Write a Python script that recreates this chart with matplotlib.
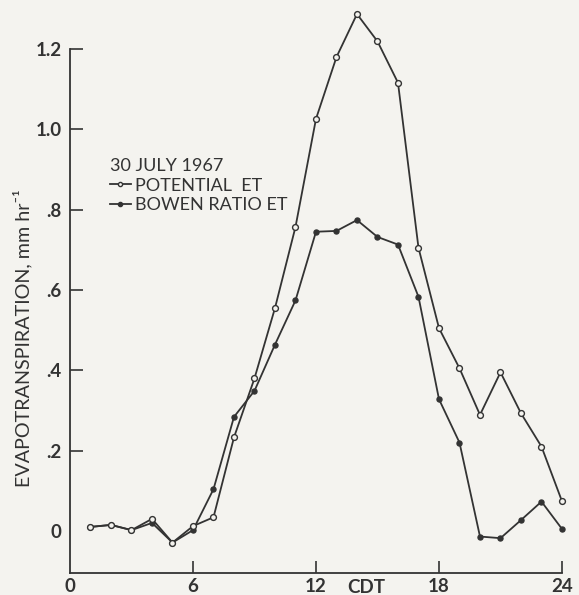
import matplotlib
matplotlib.use("Agg")
import matplotlib.pyplot as plt
from matplotlib.lines import Line2D

# hourly values (30 July 1967)
hours = list(range(1, 25))
potential_et = [0.010, 0.015, 0.002, 0.030, -0.029, 0.012, 0.034, 0.233, 0.380, 0.555,
                0.757, 1.026, 1.180, 1.287, 1.219, 1.116, 0.705, 0.505, 0.405, 0.289,
                0.395, 0.293, 0.210, 0.074]
bowen_et = [0.010, 0.015, 0.002, 0.020, -0.029, 0.002, 0.104, 0.284, 0.349, 0.464,
            0.574, 0.745, 0.747, 0.774, 0.732, 0.713, 0.583, 0.328, 0.220, -0.014,
            -0.018, 0.027, 0.073, 0.005]
xticks = [0, 6, 12, 18, 24]
yticks = [0, 0.2, 0.4, 0.6, 0.8, 1.0, 1.2]
ytick_labels = ["0", ".2", ".4", ".6", ".8", "1.0", "1.2"]

BG = "#f4f3ef"
INK = "#333333"
plt.rcParams["font.family"] = ["Lato", "DejaVu Sans"]

fig = plt.figure(figsize=(5.79, 5.95), dpi=100, facecolor=BG)
ax = fig.add_axes([70/579, 22.3/595, 509/579, 572.7/595])
ax.set_facecolor(BG)

ax.plot(hours, bowen_et, color=INK, lw=1.3, marker="o", ms=3.6,
        mfc=INK, mec=INK, zorder=3)
ax.plot(hours, potential_et, color=INK, lw=1.3, marker="o", ms=4.2,
        mfc=BG, mec=INK, mew=1.0, zorder=4)

ax.set_xlim(0, 24.83)
ax.set_ylim(-0.104, 1.322)
for s in ["top", "right"]:
    ax.spines[s].set_visible(False)
for s in ["left", "bottom"]:
    ax.spines[s].set_color(INK)
    ax.spines[s].set_linewidth(1.3)
ax.spines["left"].set_bounds(-0.104, 1.2)
ax.spines["bottom"].set_bounds(0, 24)

ax.set_xticks(xticks)
ax.set_xticklabels([str(t) for t in xticks])
ax.set_yticks(yticks)
ax.set_yticklabels(ytick_labels)
ax.tick_params(direction="in", length=9, width=1.2, color=INK, labelcolor=INK,
               labelsize=13.5)
ax.tick_params(axis="x", pad=4)
ax.tick_params(axis="y", pad=6)
for lab in ax.get_xticklabels() + ax.get_yticklabels():
    lab.set_fontweight("bold")
ax.xaxis.get_major_ticks()[0].tick1line.set_visible(False)
ax.yaxis.get_major_ticks()[0].tick1line.set_visible(False)

ax.text(14.45, -0.0105, "CDT", transform=ax.get_xaxis_transform(),
        ha="center", va="top", fontsize=13.5, fontweight="bold", color=INK)

fig.text(23/579, 1 - 338/595, "EVAPOTRANSPIRATION, mm hr⁻¹", rotation=90,
         ha="center", va="center", fontsize=14.2, color=INK)

handles = [Line2D([], [], color=INK, lw=1.3, marker="o", ms=3.0, mfc=BG, mec=INK),
           Line2D([], [], color=INK, lw=1.3, marker="o", ms=3.0, mfc=INK, mec=INK)]
leg = ax.legend(handles, ["POTENTIAL  ET", "BOWEN RATIO ET"], title="30 JULY 1967",
                loc="upper left", bbox_to_anchor=(110/579, 1 - 158/595),
                bbox_transform=fig.transFigure, frameon=False, fontsize=13,
                title_fontsize=13, handlelength=1.15, handletextpad=0.25,
                labelspacing=0.2, borderpad=0, borderaxespad=0, alignment="left")
for t in leg.get_texts():
    t.set_color(INK)
leg.get_title().set_color(INK)

fig.savefig("out.png", dpi=100, facecolor=BG)
